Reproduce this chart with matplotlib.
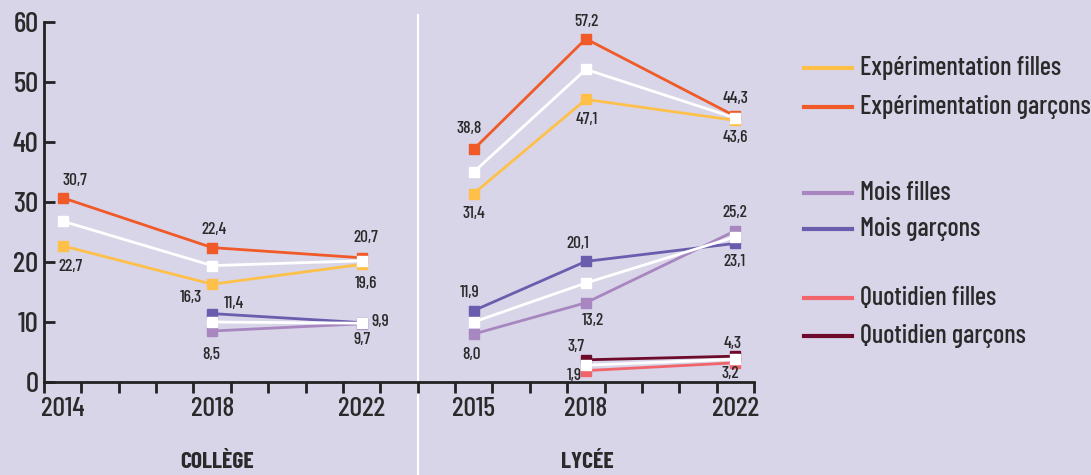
import matplotlib
matplotlib.use("Agg")
import matplotlib.pyplot as plt
from matplotlib.lines import Line2D

# ---------------- data ----------------
college_years = [2014, 2018, 2022]
lycee_years = [2015, 2018, 2022]

col_exp_filles = [22.7, 16.3, 19.6]
col_exp_garcons = [30.7, 22.4, 20.7]
col_exp_ensemble = [26.8, 19.4, 20.2]
col_mois_years = [2018, 2022]
col_mois_filles = [8.5, 9.7]
col_mois_garcons = [11.4, 9.9]
col_mois_ensemble = [10.0, 9.8]

lyc_exp_filles = [31.4, 47.1, 43.6]
lyc_exp_garcons = [38.8, 57.2, 44.3]
lyc_exp_ensemble = [35.0, 52.1, 44.0]
lyc_mois_filles = [8.0, 13.2, 25.2]
lyc_mois_garcons = [11.9, 20.1, 23.1]
lyc_mois_ensemble = [10.0, 16.5, 24.2]
lyc_quot_years = [2018, 2022]
lyc_quot_filles = [1.9, 3.2]
lyc_quot_garcons = [3.7, 4.3]
lyc_quot_ensemble = [2.8, 3.8]

legend_labels = ["Expérimentation filles", "Expérimentation garçons",
                 "Mois filles", "Mois garçons",
                 "Quotidien filles", "Quotidien garçons"]
section_labels = ["COLLÈGE", "LYCÉE"]
y_ticks = [0, 10, 20, 30, 40, 50, 60]

# ---------------- style ----------------
plt.rcParams['font.family'] = ['Barlow Condensed', 'DejaVu Sans']

BG = "#D8D5E9"
C_EXP_F = "#FFC04A"
C_EXP_G = "#F05A28"
C_MOIS_F = "#A886C0"
C_MOIS_G = "#6A5DAD"
C_QUOT_F = "#F0646A"
C_QUOT_G = "#6E0A2A"
TXT = "#2A2A2A"

fig = plt.figure(figsize=(10.91, 4.75), dpi=100, facecolor=BG)
ax = fig.add_axes([44 / 1091, 93 / 475, 710 / 1091, 360 / 475])
ax.set_facecolor(BG)
ax.set_xlim(0, 19)
ax.set_ylim(0, 60)


def xc(years):
    return [y - 2014 + 0.5 for y in years]


def xl(years):
    return [y - 2014 + 10.5 for y in years]


def draw(xs, ys, color, z=3):
    ax.plot(xs, ys, color=color, lw=2.0, marker="s", ms=6.5,
            mec=color, mfc=color, zorder=z, clip_on=False)


# collège
draw(xc(college_years), col_exp_filles, C_EXP_F)
draw(xc(college_years), col_exp_garcons, C_EXP_G)
draw(xc(college_years), col_exp_ensemble, "white", 4)
draw(xc(col_mois_years), col_mois_filles, C_MOIS_F)
draw(xc(col_mois_years), col_mois_garcons, C_MOIS_G)
draw(xc(col_mois_years), col_mois_ensemble, "white", 4)
# lycée
draw(xl(lycee_years), lyc_exp_filles, C_EXP_F)
draw(xl(lycee_years), lyc_exp_garcons, C_EXP_G)
draw(xl(lycee_years), lyc_exp_ensemble, "white", 4)
draw(xl(lycee_years), lyc_mois_filles, C_MOIS_F)
draw(xl(lycee_years), lyc_mois_garcons, C_MOIS_G)
draw(xl(lycee_years), lyc_mois_ensemble, "white", 4)
draw(xl(lyc_quot_years), lyc_quot_filles, C_QUOT_F)
draw(xl(lyc_quot_years), lyc_quot_garcons, C_QUOT_G)
draw(xl(lyc_quot_years), lyc_quot_ensemble, "white", 4)


def fmt(v):
    return f"{v:.1f}".replace(".", ",")


def labels(xs, ys, offsets):
    for x, y, (dx, dy) in zip(xs, ys, offsets):
        ax.annotate(fmt(y), (x, y), xytext=(dx, dy), textcoords="offset pixels",
                    ha="center", va="center", fontsize=12.5, color=TXT,
                    fontweight="medium", zorder=6, annotation_clip=False)


labels(xc(college_years), col_exp_garcons, [(12, 17), (2, 18), (4, 20)])
labels(xc(college_years), col_exp_filles, [(8, -21), (-21, -13), (4, -19)])
labels(xc(col_mois_years), col_mois_garcons, [(22, 10), (19, 1)])
labels(xc(col_mois_years), col_mois_filles, [(-1, -23), (0, -16)])
labels(xl(lycee_years), lyc_exp_garcons, [(-5, 21), (1, 17), (0, 18)])
labels(xl(lycee_years), lyc_exp_filles, [(0, -20), (1, -20), (0, -17)])
labels(xl(lycee_years), lyc_mois_filles, [(-2, -20), (7, -18), (-1, 18)])
labels(xl(lycee_years), lyc_mois_garcons, [(-4, 18), (-8, 18), (-1, -18)])
labels(xl(lyc_quot_years), lyc_quot_garcons, [(-10, 13), (-3, 13)])
labels(xl(lyc_quot_years), lyc_quot_filles, [(-12, -5), (-5, -11)])

# axes styling
for s in ("top", "right"):
    ax.spines[s].set_visible(False)
for s in ("left", "bottom"):
    ax.spines[s].set_color("#222222")
    ax.spines[s].set_linewidth(2)
ax.set_yticks(y_ticks)
ax.set_yticklabels([str(v) for v in y_ticks], fontsize=21, fontweight="medium", color=TXT)
ax.tick_params(axis="y", direction="in", length=8, width=2, color="#222222", pad=4)
ax.set_xticks(range(0, 20), minor=True)
ax.tick_params(axis="x", which="minor", direction="out", length=8, width=2, color="#222222")
ax.set_xticks(xc(college_years) + xl(lycee_years))
ax.set_xticklabels([str(y) for y in college_years + lycee_years], fontsize=20,
                   fontweight="medium", color=TXT)
ax.tick_params(axis="x", which="major", length=0, pad=11)

# divider
ax.axvline(10, ymin=-0.26, ymax=1.02, color="white", lw=1.5, clip_on=False, zorder=1)

# section labels
fig.text(217 / 1091, 1 - 462 / 475, section_labels[0], ha="center", va="center",
         fontsize=17, fontweight="bold", color=TXT)
fig.text(587 / 1091, 1 - 462 / 475, section_labels[1], ha="center", va="center",
         fontsize=17, fontweight="bold", color=TXT)

# legend
leg_colors = [C_EXP_F, C_EXP_G, C_MOIS_F, C_MOIS_G, C_QUOT_F, C_QUOT_G]
leg_y = [68, 107, 193, 229, 298, 336]
for lab, c, yy in zip(legend_labels, leg_colors, leg_y):
    yf = 1 - yy / 475
    fig.add_artist(Line2D([804 / 1091, 852 / 1091], [yf, yf], color=c, lw=3))
    fig.text(860 / 1091, yf, lab, ha="left", va="center", fontsize=19,
             fontweight="medium", color=TXT)

fig.savefig("out.png", dpi=100, facecolor=BG)
